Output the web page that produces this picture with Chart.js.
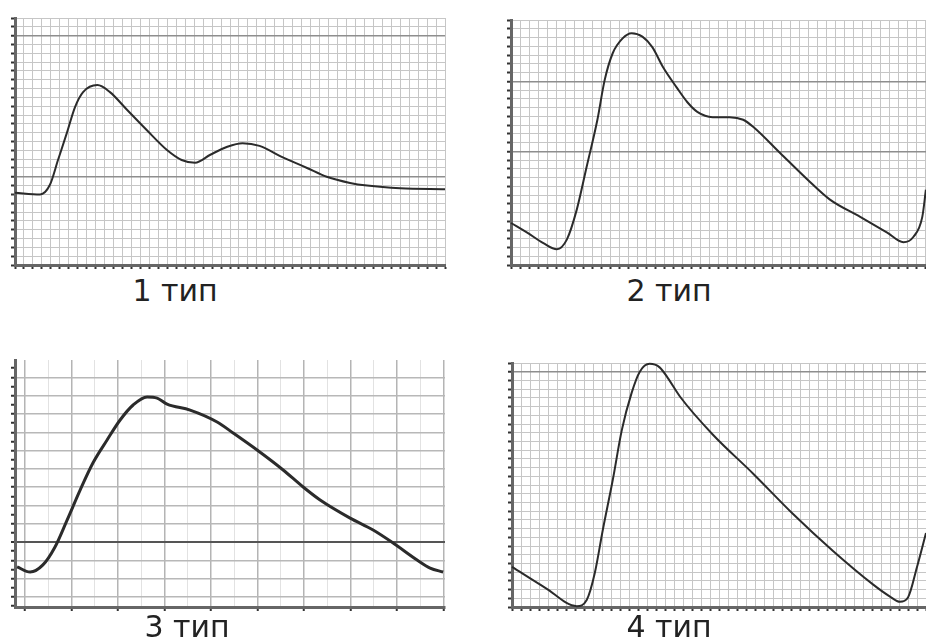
<!DOCTYPE html>
<html>
<head>
<meta charset="utf-8">
<script src="https://cdn.jsdelivr.net/npm/chart.js@4.4.1/dist/chart.umd.min.js"></script>
<style>
  html, body { margin: 0; padding: 0; background: #fff; width: 926px; height: 641px; overflow: hidden; }
  canvas { position: absolute; }
  .label { position: absolute; width: 200px; text-align: center; font-family: "DejaVu Sans", sans-serif;
           font-size: 30px; line-height: 30px; color: #222; }
</style>
</head>
<body>
<canvas id="c1"></canvas>
<canvas id="c2"></canvas>
<canvas id="c3"></canvas>
<canvas id="c4"></canvas>
<div class="label" id="l1"></div>
<div class="label" id="l2"></div>
<div class="label" id="l3"></div>
<div class="label" id="l4"></div>
<script>
// pulse wave types, values are in grid cells
const typeLabels = ['1 тип', '2 тип', '3 тип', '4 тип'];

const type1X = [0, 2.8, 3.9, 4.8, 5.8, 6.7, 7.6, 9.2, 10.6, 12.5, 14.7, 17.0, 18.6, 20.1, 21.8, 23.7, 25.4, 27.3, 29.9, 32.6, 34.8, 37.4, 39.3, 43.0, 48];
const type1Y = [8.2, 8.0, 9.1, 11.9, 15.0, 17.9, 19.6, 20.4, 19.6, 17.6, 15.3, 13.0, 11.9, 11.6, 12.5, 13.4, 13.8, 13.5, 12.2, 11.0, 10.0, 9.3, 9.0, 8.7, 8.6];

const type2X = [0, 1.8, 3.6, 5.1, 6.2, 7.3, 8.4, 9.6, 10.4, 11.3, 12.4, 13.4, 14.6, 15.7, 16.9, 18.4, 19.6, 20.7, 22.4, 24.3, 25.8, 26.9, 29.9, 32.9, 35.4, 38.8, 41.8, 43.6, 44.7, 45.7, 46.1];
const type2Y = [4.8, 3.7, 2.5, 1.8, 2.9, 6.3, 11.2, 16.6, 21.1, 24.2, 25.9, 26.5, 26.1, 24.9, 22.6, 20.3, 18.6, 17.5, 16.9, 16.9, 16.6, 15.8, 12.8, 9.8, 7.5, 5.5, 3.7, 2.6, 3.2, 5.5, 8.6];

const type3X = [-0.34, 0.22, 0.77, 1.29, 1.81, 2.37, 2.92, 3.53, 4.09, 4.65, 5.25, 5.68, 6.11, 7.10, 8.26, 8.95, 9.98, 11.10, 11.96, 12.69, 13.98, 14.97, 15.83, 16.86, 17.42, 17.98];
const type3Y = [1.64, 1.36, 1.75, 2.73, 4.20, 5.84, 7.32, 8.58, 9.67, 10.49, 10.93, 10.87, 10.54, 10.21, 9.56, 8.96, 8.03, 6.94, 6.01, 5.30, 4.31, 3.66, 2.95, 2.02, 1.58, 1.36];

const type4X = [0, 3.7, 7.2, 8.3, 9.2, 10.1, 11.2, 12.2, 13.3, 14.2, 15.3, 16.4, 17.3, 18.7, 22.3, 26.8, 31.2, 35.7, 40.1, 42.0, 43.1, 44.0, 45.0, 46.0];
const type4Y = [4.6, 2.2, 0.1, 0.8, 3.9, 8.9, 14.6, 20.3, 24.6, 27.0, 27.9, 27.5, 26.3, 24.1, 19.8, 15.3, 10.7, 6.4, 2.6, 1.2, 0.6, 1.1, 4.6, 8.5];

const TICK = 4;

const panels = [
  { id: 'c1', xs: type1X, ys: type1Y, left: 15, top: 18, right: 445, bottom: 265,
    xMin: 0, xMax: 48, yMin: 0, yMax: 28, darkY: [10, 26], lw: 2 },
  { id: 'c2', xs: type2X, ys: type2Y, left: 511, top: 20, right: 961, bottom: 265,
    xMin: 0, xMax: 50, yMin: 0, yMax: 28, darkY: [13, 21], lw: 2 },
  { id: 'c3', xs: type3X, ys: type3Y, left: 15, top: 360, right: 445, bottom: 607,
    xMin: -0.43, xMax: 18.06, yMin: -0.55, yMax: 12.95, darkY: [3], lw: 3, coarse: true },
  { id: 'c4', xs: type4X, ys: type4Y, left: 512, top: 363, right: 962, bottom: 607,
    xMin: 0, xMax: 50, yMin: 0, yMax: 28, darkY: [27], lw: 2 }
];

const labelPos = [[175, 276], [669, 276], [187, 612], [669, 612]];

// ticks on every step inside the range, never at the bounds
function stepTicks(step) {
  return function(scale) {
    const t = [];
    for (let v = Math.ceil(scale.min / step - 1e-9) * step; v <= scale.max + 1e-9; v += step) {
      t.push({ value: Math.round(v * 100) / 100 });
    }
    scale.ticks = t;
  };
}

panels.forEach(function(p, i) {
  const cv = document.getElementById(p.id);
  const w = p.right - p.left + 12;
  const h = p.bottom - p.top + 12;
  cv.width = w; cv.height = h;
  cv.style.width = w + 'px'; cv.style.height = h + 'px';
  cv.style.left = (p.left - 8) + 'px';
  cv.style.top = (p.top - 4) + 'px';

  const pts = p.xs.map(function(x, k) { return { x: x, y: p.ys[k] }; });

  const xGrid = p.coarse ? {
    color: function(c) { return Math.abs(c.tick.value % 2) === 0 ? '#b4b4b4' : '#e2e2e2'; },
    tickColor: function(c) { return Math.abs(c.tick.value % 2) === 0 ? '#333' : 'rgba(0,0,0,0)'; },
    lineWidth: function(c) { return Math.abs(c.tick.value % 2) === 0 ? 1.5 : 1; },
    tickLength: TICK, tickWidth: 2
  } : {
    color: '#c6c6c6', tickColor: '#333', tickLength: TICK, tickWidth: 2, lineWidth: 1
  };

  const yGrid = {
    color: function(c) {
      const v = c.tick.value;
      if (v % 1 !== 0) return 'rgba(0,0,0,0)';
      if (p.darkY.indexOf(v) >= 0) return p.coarse ? '#555' : '#8e8e8e';
      return p.coarse ? '#b8b8b8' : '#c6c6c6';
    },
    lineWidth: function(c) {
      return p.darkY.indexOf(c.tick.value) >= 0 ? (p.coarse ? 2 : 1.5) : (p.coarse ? 1.5 : 1);
    },
    tickColor: '#333', tickLength: TICK, tickWidth: 2
  };

  new Chart(cv, {
    type: 'line',
    data: {
      datasets: [{
        data: pts,
        borderColor: '#2b2b2b',
        borderWidth: p.lw,
        pointRadius: 0,
        fill: false,
        cubicInterpolationMode: 'monotone',
        clip: 6
      }]
    },
    options: {
      responsive: false,
      animation: false,
      events: [],
      layout: { autoPadding: false, padding: { left: 8 - TICK, top: 4, right: 4, bottom: 8 - TICK } },
      plugins: { legend: { display: false }, tooltip: { enabled: false } },
      scales: {
        x: {
          type: 'linear', min: p.xMin, max: p.xMax,
          ticks: { display: false },
          afterBuildTicks: stepTicks(1),
          grid: xGrid,
          border: { display: true, color: '#666', width: 3 }
        },
        y: {
          type: 'linear', min: p.yMin, max: p.yMax,
          ticks: { display: false },
          afterBuildTicks: stepTicks(p.coarse ? 0.5 : 1),
          grid: yGrid,
          border: { display: true, color: '#666', width: 3 }
        }
      }
    }
  });

  const lab = document.getElementById('l' + (i + 1));
  lab.textContent = typeLabels[i];
  lab.style.left = (labelPos[i][0] - 100) + 'px';
  lab.style.top = labelPos[i][1] + 'px';
});
</script>
</body>
</html>
